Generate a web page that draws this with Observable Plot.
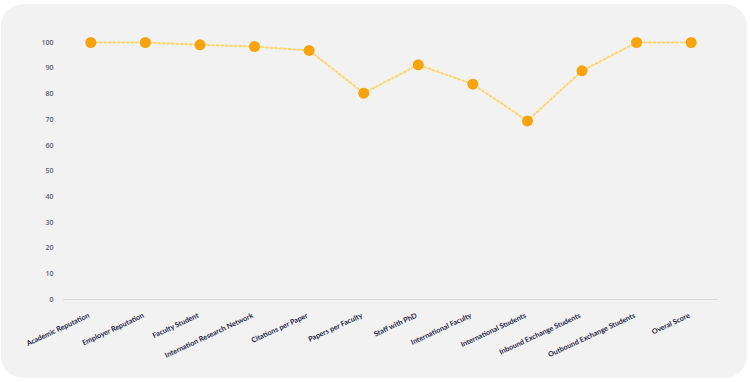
<!DOCTYPE html>
<html>
<head>
<meta charset="utf-8">
<script src="https://cdn.jsdelivr.net/npm/d3@7"></script>
<script src="https://cdn.jsdelivr.net/npm/@observablehq/plot@0.6"></script>
<style>
  html, body { margin: 0; padding: 0; background: #ffffff; }
  #wrap { position: relative; width: 750px; height: 382px; overflow: hidden; }
  #card { position: absolute; left: 1px; top: 4px; width: 746px; height: 374px; background: #f2f2f2; border-radius: 22px; }
  #chart { position: absolute; left: 0; top: 0; }
</style>
</head>
<body>
<div id="wrap"><div id="card"></div><div id="chart"></div></div>
<script>
const categories = [
  "Academic Reputation",
  "Employer Reputation",
  "Faculty Student",
  "Internation Research Network",
  "Citations per Paper",
  "Papers per Faculty",
  "Staff with PhD",
  "International Faculty",
  "International Students",
  "Inbound Exchange Students",
  "Outbound Exchange Students",
  "Overal Score"
];
const scores = [100, 100, 99.1, 98.4, 96.9, 80.3, 91.3, 83.8, 69.5, 89.0, 100, 100];
const yTicks = [0, 10, 20, 30, 40, 50, 60, 70, 80, 90, 100];

const data = categories.map((c, i) => ({category: c, score: scores[i]}));

const chart = Plot.plot({
  width: 750,
  height: 382,
  marginLeft: 63,
  marginRight: 32,
  marginTop: 42,
  marginBottom: 83,
  style: {background: "transparent", fontFamily: "'Open Sans', sans-serif"},
  x: {type: "point", domain: categories, padding: 0.5, round: false, axis: null},
  y: {domain: [0, 100]},
  marks: [
    Plot.ruleY([0], {stroke: "#d9d9d9", strokeWidth: 1}),
    Plot.axisY({ticks: yTicks, tickSize: 0, tickPadding: 10, fontSize: 7, fontWeight: 600, fill: "#5f6072", label: null}),
    Plot.text(categories, {x: d => d, text: d => d, frameAnchor: "bottom", dy: 13, dx: -3, rotate: -25, textAnchor: "end", lineAnchor: "top", fontSize: 7.2, fontWeight: 700, fontFamily: "Lato, sans-serif", fill: "#1f2540"}),
    Plot.line(data, {x: "category", y: "score", stroke: "#fcd76e", strokeWidth: 2, strokeDasharray: "2,2.5"}),
    Plot.dot(data, {x: "category", y: "score", r: 5.5, fill: "#f7a30c", stroke: "none"})
  ]
});
document.getElementById("chart").appendChild(chart);
</script>
</body>
</html>
